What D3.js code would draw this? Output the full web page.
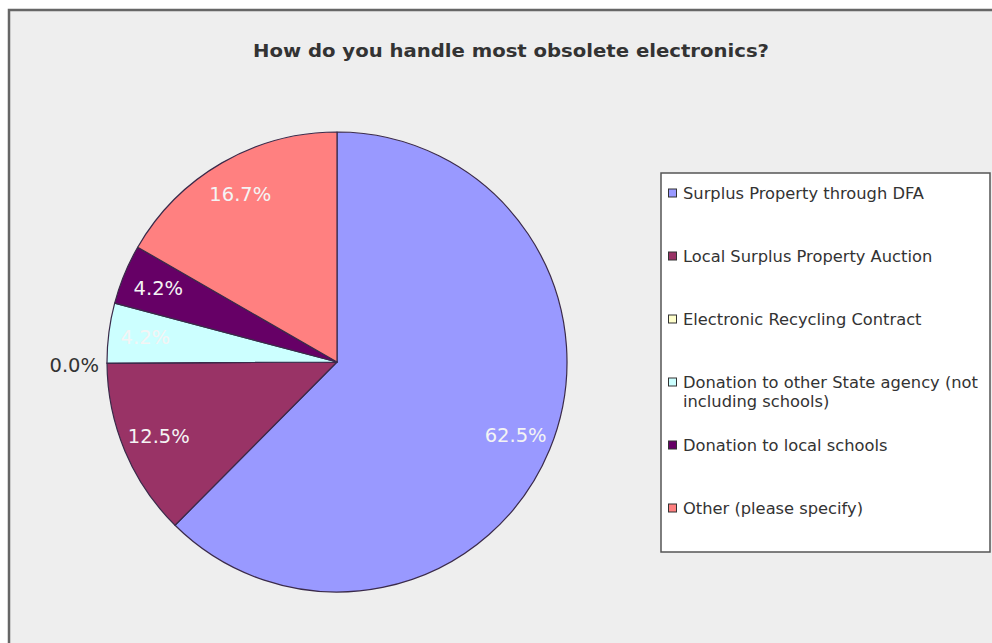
<!DOCTYPE html>
<html>
<head>
<meta charset="utf-8">
<script src="https://cdn.jsdelivr.net/npm/d3@7"></script>
<style>
  html, body { margin: 0; padding: 0; background: #ffffff; }
  svg { display: block; }
</style>
</head>
<body>
<svg id="chart" width="992" height="643"></svg>
<script>
// Survey answers, share of respondents (%)
const categories = [
  "Surplus Property through DFA",
  "Local Surplus Property Auction",
  "Electronic Recycling Contract",
  "Donation to other State agency (not including schools)",
  "Donation to local schools",
  "Other (please specify)"
];
const values = [62.5, 12.5, 0.0, 4.2, 4.2, 16.7];
const colors = ["#9999ff", "#993366", "#ffffcc", "#ccffff", "#660066", "#ff8080"];
// Legend text, wrapped by line
const legendLines = [
  ["Surplus Property through DFA"],
  ["Local Surplus Property Auction"],
  ["Electronic Recycling Contract"],
  ["Donation to other State agency (not", "including schools)"],
  ["Donation to local schools"],
  ["Other (please specify)"]
];
const title = "How do you handle most obsolete electronics?";

const svg = d3.select("#chart");
const font = "'DejaVu Sans', Verdana, sans-serif";

// Chart panel
svg.append("rect")
  .attr("x", 9).attr("y", 10)
  .attr("width", 1000).attr("height", 700)
  .attr("fill", "#eeeeee")
  .attr("stroke", "#666666")
  .attr("stroke-width", 2.5);

// Title
svg.append("text")
  .attr("x", 511).attr("y", 57)
  .attr("text-anchor", "middle")
  .attr("font-family", font)
  .attr("font-weight", "bold")
  .attr("font-size", 18)
  .attr("textLength", 516)
  .attr("lengthAdjust", "spacingAndGlyphs")
  .attr("fill", "#333333")
  .text(title);

// Pie
const cx = 337, cy = 362, R = 230;
const data = categories.map((c, i) => ({ name: c, value: values[i], color: colors[i] }));
const pie = d3.pie().sort(null).value(d => d.value).startAngle(0).endAngle(2 * Math.PI);
const arcs = pie(data);
const arc = d3.arc().innerRadius(0).outerRadius(R);
const labelArc = d3.arc().innerRadius(R * 0.84).outerRadius(R * 0.84);

const g = svg.append("g").attr("transform", `translate(${cx},${cy})`);

g.selectAll("path.slice")
  .data(arcs)
  .join("path")
  .attr("class", "slice")
  .attr("d", arc)
  .attr("fill", d => d.data.color)
  .attr("stroke", "#3a2a4a")
  .attr("stroke-width", 1.2)
  .attr("stroke-linejoin", "round");

const fmt = v => v.toFixed(1) + "%";

// Value labels: inside for non-empty slices, outside for empty ones
g.selectAll("text.val")
  .data(arcs)
  .join("text")
  .attr("class", "val")
  .attr("font-family", font)
  .attr("font-size", 19.5)
  .attr("dominant-baseline", "central")
  .each(function (d) {
    const t = d3.select(this);
    if (d.data.value > 0) {
      const [x, y] = labelArc.centroid(d);
      t.attr("x", x).attr("y", y)
        .attr("text-anchor", "middle")
        .attr("fill", "#f4f4f4");
    } else {
      const a = d.startAngle;
      const r = R + 8;
      t.attr("x", r * Math.sin(a)).attr("y", -r * Math.cos(a) + 2)
        .attr("text-anchor", "end")
        .attr("fill", "#333333");
    }
  })
  .text(d => fmt(d.data.value));

// Legend
const lg = svg.append("g");
lg.append("rect")
  .attr("x", 661).attr("y", 173)
  .attr("width", 329).attr("height", 379)
  .attr("fill", "#ffffff")
  .attr("stroke", "#555555")
  .attr("stroke-width", 1.5);

const rowY = d3.scaleLinear().domain([0, 1]).range([193, 256]);

const items = lg.selectAll("g.item")
  .data(data)
  .join("g")
  .attr("class", "item")
  .attr("transform", (d, i) => `translate(668,${rowY(i)})`);

items.append("rect")
  .attr("x", 0.5).attr("y", -4)
  .attr("width", 8).attr("height", 8)
  .attr("fill", d => d.color)
  .attr("stroke", "#333333")
  .attr("stroke-width", 1);

items.each(function (d, i) {
  const t = d3.select(this).append("text")
    .attr("font-family", font)
    .attr("font-size", 16.3)
    .attr("fill", "#333333");
  legendLines[i].forEach((line, k) => {
    t.append("tspan")
      .attr("x", 15)
      .attr("y", k * 19)
      .attr("dominant-baseline", "central")
      .text(line);
  });
});
</script>
</body>
</html>
